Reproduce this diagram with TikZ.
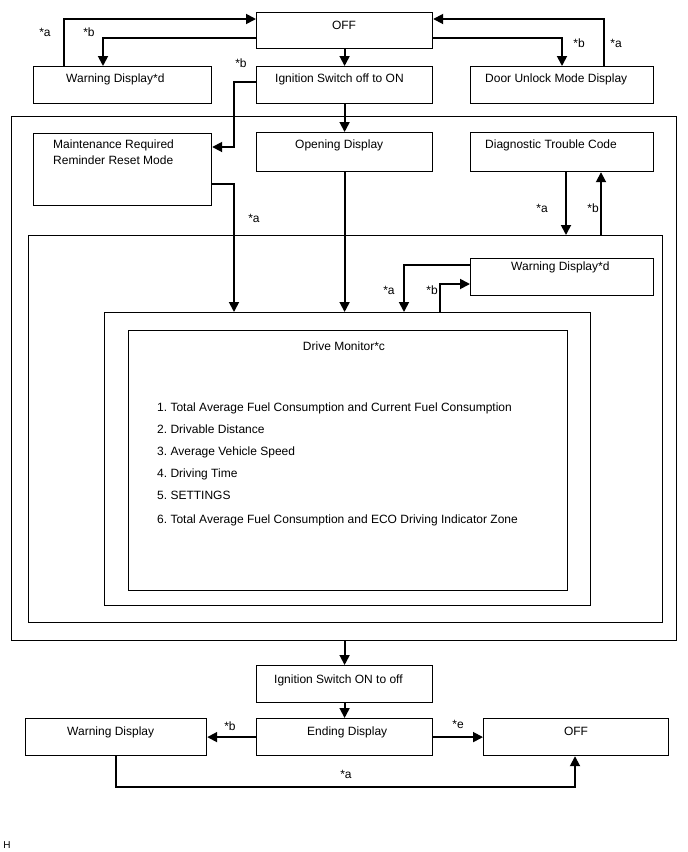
\documentclass[tikz,border=0pt]{standalone}
\usepackage{fontspec}
\setmainfont{Liberation Sans}
\usetikzlibrary{arrows.meta}
\newcommand{\fs}{\fontsize{12}{14}\selectfont\frenchspacing}
\begin{document}
\begin{tikzpicture}[x=1pt,y=-1pt,
  box/.style={draw, line width=1.2pt, inner sep=0pt, anchor=north west},
  txt/.style={inner sep=0pt, anchor=base west, font=\fs},
  ctxt/.style={inner sep=0pt, anchor=base, font=\fs},
  lbl/.style={inner sep=0pt, anchor=center, font=\fs},
  arr/.style={line width=1.8pt, -{Triangle[length=10pt,width=10pt]}}]
\useasboundingbox[fill=white] (0,0) rectangle (688,852);

% boxes
\node[box, minimum width=176, minimum height=36] (off1) at (256,12) {};
\node[box, minimum width=178, minimum height=37] (warn1) at (33,66) {};
\node[box, minimum width=176, minimum height=37] (ign1) at (256,66) {};
\node[box, minimum width=183, minimum height=37] (door) at (470,66) {};
\node[box, minimum width=665, minimum height=524] (outer) at (11,116) {};
\node[box, minimum width=178, minimum height=72] (maint) at (33,133) {};
\node[box, minimum width=176, minimum height=39] (open) at (256,132) {};
\node[box, minimum width=183, minimum height=39] (diag) at (470,132) {};
\node[box, minimum width=634, minimum height=387] (second) at (28,235) {};
\node[box, minimum width=183, minimum height=37] (warn2) at (470,258) {};
\node[box, minimum width=486, minimum height=293] (third) at (104,312) {};
\node[box, minimum width=439, minimum height=260] (drive) at (128,330) {};
\node[box, minimum width=176, minimum height=37] (ign2) at (256,665) {};
\node[box, minimum width=181, minimum height=37] (warn3) at (25,718) {};
\node[box, minimum width=176, minimum height=37] (endd) at (256,718) {};
\node[box, minimum width=185, minimum height=37] (off2) at (483,718) {};

% texts
\node[ctxt] (toff1) at (344,29) {OFF};
\node[txt] (twarn1) at (66,82) {Warning Display*d};
\node[txt] (tign1) at (275,82) {Ignition Switch off to ON};
\node[txt] (tdoor) at (485,82) {Door Unlock Mode Display};
\node[txt] (tmaint) at (53,148) {Maintenance Required};
\node[txt] (tmaint2) at (53,164) {Reminder Reset Mode};
\node[txt] (topen) at (295,148) {Opening Display};
\node[txt] (tdiag) at (485,148) {Diagnostic Trouble Code};
\node[txt] (twarn2) at (511,270) {Warning Display*d};
\node[ctxt] (tdrive) at (344,350) {Drive Monitor*c};
\node[txt] (i1) at (157,411) {1. Total Average Fuel Consumption and Current Fuel Consumption};
\node[txt] (i2) at (157,433) {2. Drivable Distance};
\node[txt] (i3) at (157,455) {3. Average Vehicle Speed};
\node[txt] (i4) at (157,477) {4. Driving Time};
\node[txt] (i5) at (157,499) {5. SETTINGS};
\node[txt] (i6) at (157,523) {6. Total Average Fuel Consumption and ECO Driving Indicator Zone};
\node[txt] (tign2) at (274,683) {Ignition Switch ON to off};
\node[txt] (twarn3) at (67,735) {Warning Display};
\node[txt] (tend) at (307,735) {Ending Display};
\node[ctxt] (toff2) at (576,735) {OFF};
\node[lbl, font=\fontsize{10}{12}\selectfont] (th) at (7,845) {H};

% bend coordinates
\coordinate (b1) at (234,82);
\coordinate (b2) at (234,147);
\coordinate (b3) at (234,184);
\coordinate (b4) at (566,200);
\coordinate (b5) at (601,200);
\coordinate (b6) at (404,265);
\coordinate (b7) at (440,284);
\coordinate (b8) at (116,787);
\coordinate (b9) at (575,787);
\coordinate (b10) at (64,19);
\coordinate (b11) at (103,38);
\coordinate (b12) at (562,38);
\coordinate (b13) at (604,19);

% connectors
\draw[arr] (warn1.north -| b10) -- (b10) -- (off1.west |- b10);
\draw[arr] (off1.west |- b11) -- (b11) -- (b11 |- warn1.north);
\draw[arr] (off1.south) -- (ign1.north);
\draw[arr] (off1.east |- b12) -- (b12) -- (b12 |- door.north);
\draw[arr] (door.north -| b13) -- (b13) -- (off1.east |- b13);
\draw[arr] (ign1.west |- b1) -- (b1) -- (b2) -- (maint.east |- b2);
\draw[arr] (ign1.south) -- (open.north);
\draw[arr] (maint.east |- b3) -- (b3) -- (b3 |- third.north);
\draw[arr] (open.south) -- (open.south |- third.north);
\draw[arr] (diag.south -| b4) -- (b4 |- second.north);
\draw[arr] (second.north -| b5) -- (b5 |- diag.south);
\draw[arr] (warn2.west |- b6) -- (b6) -- (b6 |- third.north);
\draw[arr] (third.north -| b7) -- (b7) -- (warn2.west |- b7);
\draw[arr] (outer.south -| ign2.north) -- (ign2.north);
\draw[arr] (ign2.south) -- (endd.north);
\draw[arr] (endd.west) -- (warn3.east);
\draw[arr] (endd.east) -- (off2.west);
\draw[arr] (warn3.south -| b8) -- (b8) -- (b9) -- (b9 |- off2.south);

% labels
\node[lbl] (la1) at (45,32) {*a};
\node[lbl] (lb1) at (89,32) {*b};
\node[lbl] (lb2) at (579,43) {*b};
\node[lbl] (la2) at (616,43) {*a};
\node[lbl] (lb3) at (241,63) {*b};
\node[lbl] (la3) at (254,218) {*a};
\node[lbl] (la4) at (542,208) {*a};
\node[lbl] (lb4) at (593,208) {*b};
\node[lbl] (la5) at (389,290) {*a};
\node[lbl] (lb5) at (432,290) {*b};
\node[lbl] (lb6) at (230,726) {*b};
\node[lbl] (le6) at (458,724) {*e};
\node[lbl] (la6) at (346,774) {*a};
\end{tikzpicture}
\end{document}
